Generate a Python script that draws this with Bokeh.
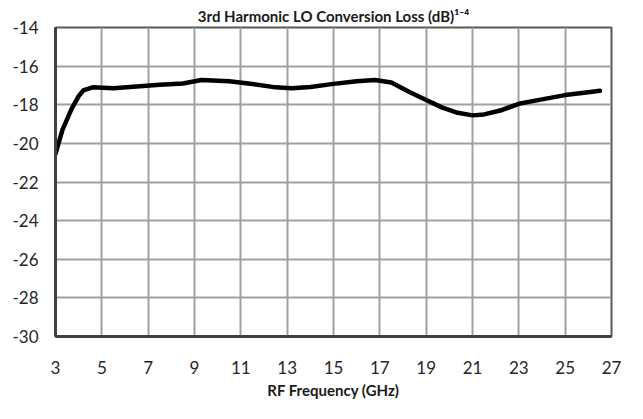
from bokeh.plotting import figure
from bokeh.models import FixedTicker, Range1d
from bokeh.embed import file_html
from bokeh.resources import INLINE

# Data
freq_ghz = [3.0, 3.3, 3.7, 4.0, 4.2, 4.6, 5.5, 6.5, 7.5, 8.5, 9.3, 10.5, 11.5,
            12.5, 13.2, 14.0, 15.0, 16.0, 16.8, 17.5, 18.3, 19.0, 19.7, 20.3,
            21.0, 21.5, 22.2, 23.0, 24.0, 25.0, 26.0, 26.5]
loss_db = [-20.55, -19.3, -18.2, -17.55, -17.26, -17.1, -17.15, -17.06, -16.97,
           -16.9, -16.72, -16.78, -16.93, -17.1, -17.15, -17.08, -16.92, -16.78,
           -16.72, -16.85, -17.35, -17.75, -18.15, -18.4, -18.55, -18.5, -18.3,
           -17.95, -17.72, -17.5, -17.35, -17.28]
x_ticks = [3, 5, 7, 9, 11, 13, 15, 17, 19, 21, 23, 25, 27]
y_ticks = [-30, -28, -26, -24, -22, -20, -18, -16, -14]
y_tick_labels = ["-30", "-28", "-26", "-24", "-22", "-20", "-18", "-16", "-14"]
title_text = "3rd Harmonic LO Conversion Loss (dB)\u00b9\u207b\u2074"
x_label = "RF Frequency (GHz)"

FONT = "Lato"

p = figure(width=627, height=403, output_backend="svg", toolbar_location=None,
           x_range=Range1d(3, 27), y_range=Range1d(-30, -14),
           min_border_left=55, min_border_right=16, min_border_top=27,
           min_border_bottom=67, title=title_text)

p.title.text_font = FONT
p.title.text_font_size = "15px"
p.title.text_font_style = "bold"
p.title.text_color = "#1a1a1a"
p.title.align = "center"
p.title.standoff = 5

p.outline_line_color = "#595959"
p.outline_line_width = 2
p.background_fill_color = "white"
p.border_fill_color = "white"

for ax in (p.xaxis[0], p.yaxis[0]):
    ax.axis_line_color = "#404040"
    ax.axis_line_width = 3
    ax.major_tick_out = 0
    ax.major_tick_in = 0
    ax.minor_tick_out = 0
    ax.minor_tick_in = 0
    ax.major_label_text_font = FONT
    ax.major_label_text_font_size = "17px"
    ax.major_label_text_color = "#262626"

p.xaxis.ticker = FixedTicker(ticks=x_ticks)
p.yaxis.ticker = FixedTicker(ticks=y_ticks)
p.yaxis.major_label_overrides = dict(zip(y_ticks, y_tick_labels))
p.xaxis.major_label_standoff = 24
p.yaxis.major_label_standoff = 17
p.xaxis.axis_label = x_label
p.xaxis.axis_label_text_font = FONT
p.xaxis.axis_label_text_font_size = "15px"
p.xaxis.axis_label_text_font_style = "bold"
p.xaxis.axis_label_text_color = "#1a1a1a"
p.xaxis.axis_label_standoff = 4

p.xgrid.ticker = FixedTicker(ticks=x_ticks)
p.ygrid.ticker = FixedTicker(ticks=y_ticks)
p.grid.grid_line_color = "#a0a0a0"
p.grid.grid_line_width = 2

p.line(freq_ghz, loss_db, line_color="black", line_width=4.5,
       line_join="round", line_cap="round")

open("out.html", "w").write(file_html(p, INLINE))
